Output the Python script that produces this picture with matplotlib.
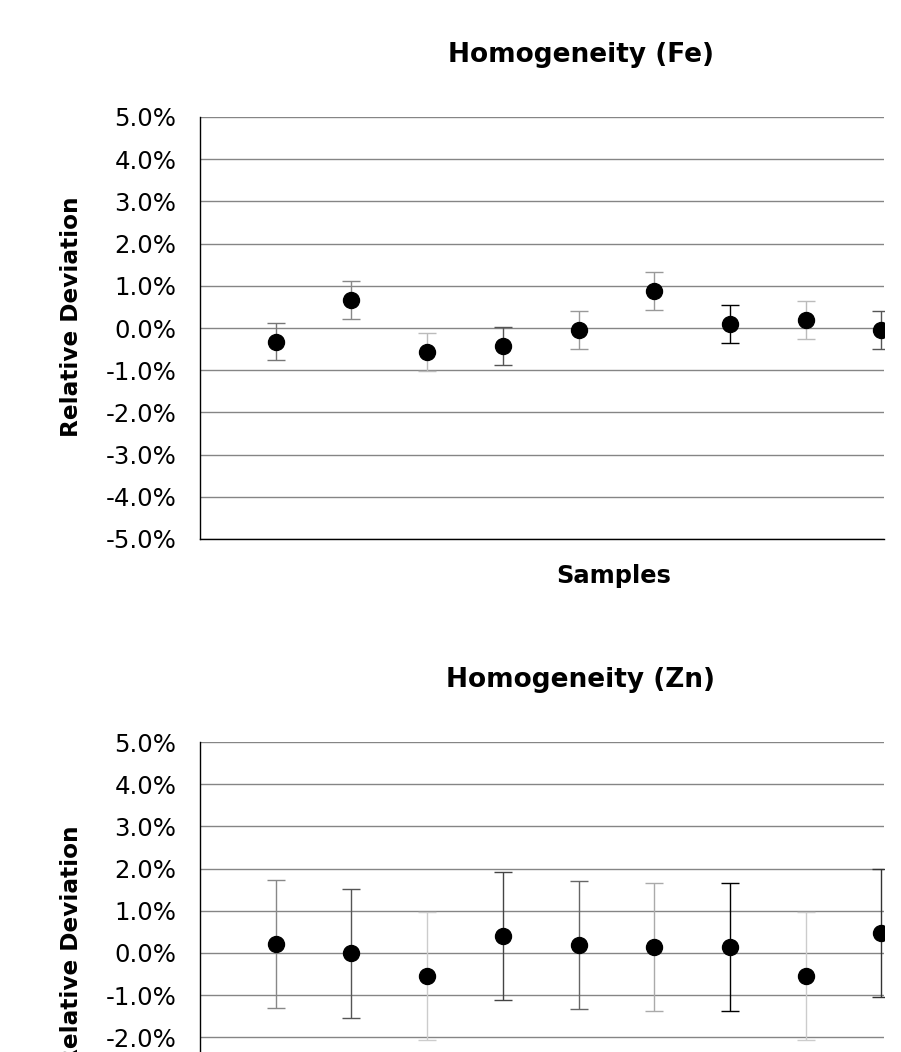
import matplotlib
matplotlib.use("Agg")
import matplotlib.pyplot as plt
from matplotlib.ticker import FuncFormatter, MultipleLocator

plt.rcParams['font.family'] = ['DejaVu Sans']

# ---- data (relative deviation in %) ----
samples = [1, 2, 3, 4, 5, 6, 7, 8, 9]
fe_values = [-0.32, 0.66, -0.58, -0.43, -0.05, 0.88, 0.09, 0.20, -0.05]
fe_errors = [0.45, 0.45, 0.45, 0.45, 0.45, 0.45, 0.45, 0.45, 0.45]
zn_values = [0.21, -0.01, -0.54, 0.41, 0.19, 0.14, 0.14, -0.54, 0.47]
zn_errors = [1.52, 1.52, 1.52, 1.52, 1.52, 1.52, 1.52, 1.52, 1.52]

# styles
fe_err_colors = ['#777777', '#888888', '#bbbbbb', '#555555', '#999999',
                 '#999999', '#000000', '#bbbbbb', '#555555']
zn_err_colors = ['#888888', '#555555', '#cccccc', '#444444', '#666666',
                 '#aaaaaa', '#000000', '#cccccc', '#333333']

W, H = 901, 1052
fig = plt.figure(figsize=(W / 100, H / 100), dpi=100)


def px_axes(left, top, right, bottom):
    return [left / W, 1 - bottom / H, (right - left) / W, (bottom - top) / H]


def draw(ax, values, errors, colors):
    for x, v, e, c in zip(samples, values, errors, colors):
        ax.errorbar([x], [v], yerr=[e], fmt='none', ecolor=c, elinewidth=1.0,
                    capsize=6.5, capthick=1.0, zorder=3)
    ax.plot(samples, values, 'o', color='black', markersize=11.5, zorder=4,
            linestyle='none')
    ax.set_xlim(0, 9.035)
    ax.set_ylim(-5, 5)
    ax.yaxis.set_major_locator(MultipleLocator(1))
    ax.yaxis.set_major_formatter(FuncFormatter(lambda v, p: f"{v:.1f}%"))
    ax.set_xticks([])
    ax.tick_params(axis='y', length=0, pad=17, labelsize=17.6, colors='black')
    ax.grid(axis='y', color='#858585', linewidth=1.0, zorder=1)
    ax.set_axisbelow(True)
    for s in ['top', 'right']:
        ax.spines[s].set_visible(False)
    ax.spines['left'].set_color('black')
    ax.spines['bottom'].set_color('black')
    ax.spines['left'].set_linewidth(1.0)
    ax.spines['bottom'].set_linewidth(1.0)


ax1 = fig.add_axes(px_axes(200, 117, 884, 539))
draw(ax1, fe_values, fe_errors, fe_err_colors)
ax2 = fig.add_axes(px_axes(200, 742, 884, 1164))
draw(ax2, zn_values, zn_errors, zn_err_colors)

fig.text(581 / W, 1 - 55 / H, 'Homogeneity (Fe)', ha='center', va='center',
         fontsize=19, fontweight='bold')
fig.text(614 / W, 1 - 576 / H, 'Samples', ha='center', va='center',
         fontsize=17.4, fontweight='bold')
fig.text(71 / W, 1 - 317 / H, 'Relative Deviation', ha='center', va='center',
         rotation=90, fontsize=16.7, fontweight='bold')

fig.text(581 / W, 1 - 680 / H, 'Homogeneity (Zn)', ha='center', va='center',
         fontsize=19, fontweight='bold')
fig.text(71 / W, 1 - 946 / H, 'Relative Deviation', ha='center', va='center',
         rotation=90, fontsize=16.7, fontweight='bold')

fig.savefig('out.png', dpi=100)
